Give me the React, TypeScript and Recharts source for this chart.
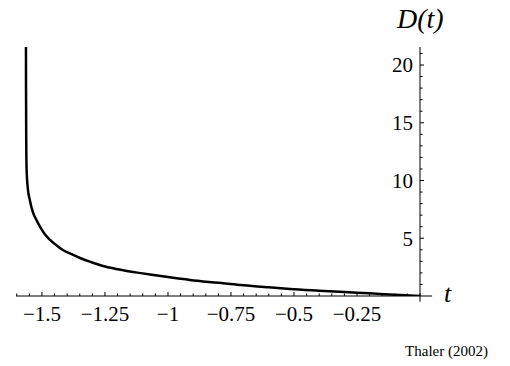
import React from 'react';
import { LineChart, Line, XAxis, YAxis, ReferenceLine } from 'recharts';

// t values and D(t)
const tValues = [
  -1.5635, -1.5632, -1.5625, -1.561, -1.556, -1.548, -1.535, -1.52, -1.508, -1.49,
  -1.468, -1.44, -1.417, -1.38, -1.349, -1.3, -1.258, -1.2, -1.163, -1.1,
  -1.0, -0.913, -0.8, -0.714, -0.6, -0.516, -0.4, -0.3, -0.2, -0.1, 0,
];
const dValues = [
  21.6, 18, 14, 11, 9.3, 8.3, 7.2, 6.5, 6.0, 5.4,
  4.85, 4.35, 3.98, 3.6, 3.29, 2.9, 2.6, 2.32, 2.16, 1.96,
  1.64, 1.39, 1.14, 0.95, 0.76, 0.61, 0.46, 0.34, 0.23, 0.11, 0,
];

const xMajorTicks = [-1.5, -1.25, -1, -0.75, -0.5, -0.25];
const xTickLabels = ['\u22121.5', '\u22121.25', '\u22121', '\u22120.75', '\u22120.5', '\u22120.25'];
const yMajorTicks = [5, 10, 15, 20];
const yTickLabels = ['5', '10', '15', '20'];

const xMin = -1.603;
const xMax = 0;
const yMax = 21.56;

const data = tValues.map((t, i) => ({ t, d: dValues[i] }));

// minor ticks: every 0.05 on t, every 1 on D
const xTicks: number[] = [];
for (let k = -32; k <= 0; k++) xTicks.push(Math.round(k * 5) / 100);
const yTicks: number[] = [];
for (let k = 0; k <= 21; k++) yTicks.push(k);

const serif = 'Liberation Serif, Times New Roman, DejaVu Serif, serif';

const XTick = (props: any) => {
  const { x, y, payload } = props;
  const idx = xMajorTicks.findIndex((v) => Math.abs(v - payload.value) < 1e-6);
  const major = idx >= 0;
  return (
    <g>
      <line x1={x} x2={x} y1={y} y2={y - (major ? 4 : 2.5)} stroke="#000" strokeWidth={1} />
      {major && (
        <text x={x} y={y + 25} textAnchor="middle" style={{ fontFamily: serif }} fontSize={21} fill="#000">
          {xTickLabels[idx]}
        </text>
      )}
    </g>
  );
};

const YTick = (props: any) => {
  const { x, y, payload } = props;
  const idx = yMajorTicks.indexOf(payload.value);
  const major = idx >= 0;
  if (payload.value === 0) return null;
  return (
    <g>
      <line x1={x} x2={x + (major ? 4 : 2.5)} y1={y} y2={y} stroke="#000" strokeWidth={1} />
      {major && (
        <text x={x - 7} y={y} dy="0.35em" textAnchor="end" style={{ fontFamily: serif }} fontSize={21} fill="#000">
          {yTickLabels[idx]}
        </text>
      )}
    </g>
  );
};

const App: React.FC = () => {
  return (
    <div style={{ position: 'absolute', left: 0, top: 0, width: 510, height: 366, background: '#fff' }}>
      <LineChart
        width={510}
        height={366}
        data={data}
        margin={{ top: 47, right: 30, bottom: 30, left: 16 }}
      >
        <XAxis
          dataKey="t"
          type="number"
          domain={[xMin, xMax]}
          allowDataOverflow
          ticks={xTicks}
          interval={0}
          axisLine={false}
          tickLine={false}
          tickSize={0}
          tickMargin={0}
          height={40}
          tick={<XTick />}
        />
        <YAxis
          type="number"
          orientation="right"
          domain={[0, yMax]}
          allowDataOverflow
          ticks={yTicks}
          interval={0}
          axisLine={{ stroke: '#000', strokeWidth: 1 }}
          tickLine={false}
          tickSize={0}
          tickMargin={0}
          width={60}
          tick={<YTick />}
        />
        <ReferenceLine
          segment={[{ x: xMin, y: 0 }, { x: 0.048, y: 0 }]}
          stroke="#000"
          strokeWidth={1}
          ifOverflow="visible"
        />
        <ReferenceLine
          segment={[{ x: 0, y: 0 }, { x: 0, y: -0.5 }]}
          stroke="#000"
          strokeWidth={1}
          ifOverflow="visible"
        />
        <Line
          type="monotone"
          dataKey="d"
          stroke="#000"
          strokeWidth={2.5}
          dot={false}
          isAnimationActive={false}
        />
      </LineChart>
      <div style={{ position: 'absolute', left: 397, top: 3, fontFamily: serif, fontStyle: 'italic', fontSize: 28, lineHeight: '32px' }}>
        D(t)
      </div>
      <div style={{ position: 'absolute', left: 444, top: 279, fontFamily: serif, fontStyle: 'italic', fontSize: 26, lineHeight: '30px' }}>
        t
      </div>
      <div style={{ position: 'absolute', right: 22, top: 342, fontFamily: serif, fontSize: 15, lineHeight: '18px' }}>
        Thaler (2002)
      </div>
    </div>
  );
};

export default App;
